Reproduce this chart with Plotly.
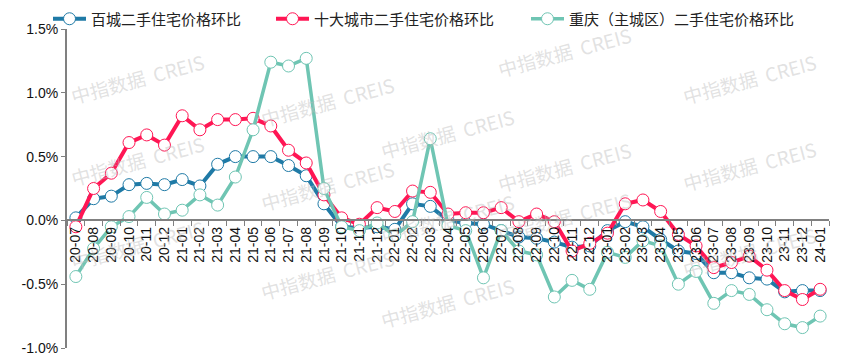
import plotly.graph_objects as go

months = ["20-07","20-08","20-09","20-10","20-11","20-12",
          "21-01","21-02","21-03","21-04","21-05","21-06","21-07","21-08","21-09","21-10","21-11","21-12",
          "22-01","22-02","22-03","22-04","22-05","22-06","22-07","22-08","22-09","22-10","22-11","22-12",
          "23-01","23-02","23-03","23-04","23-05","23-06","23-07","23-08","23-09","23-10","23-11","23-12",
          "24-01"]

baicheng = [0.02, 0.17, 0.19, 0.28, 0.29, 0.28,
            0.32, 0.27, 0.44, 0.50, 0.50, 0.50, 0.43, 0.35, 0.13, -0.05, -0.06, -0.05,
            -0.07, 0.13, 0.11, 0.00, -0.02, -0.03, -0.08, -0.13, -0.14, -0.17, -0.21, -0.20,
            -0.08, -0.01, -0.05, -0.15, -0.24, -0.26, -0.41, -0.41, -0.45, -0.46, -0.56, -0.55,
            -0.55]

shida = [-0.05, 0.25, 0.37, 0.61, 0.67, 0.59,
         0.82, 0.71, 0.79, 0.79, 0.80, 0.74, 0.55, 0.45, 0.20, 0.02, -0.03, 0.10,
         0.07, 0.23, 0.22, 0.05, 0.06, 0.06, 0.10, -0.01, 0.05, -0.01, -0.24, -0.18,
         -0.10, 0.13, 0.16, 0.07, -0.11, -0.20, -0.37, -0.33, -0.28, -0.39, -0.55, -0.62,
         -0.54]

chongqing = [-0.44, -0.22, -0.05, 0.03, 0.18, 0.05,
             0.08, 0.20, 0.12, 0.34, 0.71, 1.24, 1.21, 1.27, 0.25, -0.05, -0.08, -0.02,
             -0.12, -0.01, 0.64, -0.04, -0.08, -0.45, -0.08, -0.24, -0.27, -0.60, -0.47, -0.54,
             -0.25, -0.29, -0.16, -0.20, -0.50, -0.40, -0.65, -0.55, -0.58, -0.70, -0.81, -0.84,
             -0.75]

series_names = ["百城二手住宅价格环比", "十大城市二手住宅价格环比", "重庆（主城区）二手住宅价格环比"]
series_colors = ["#1f7aa6", "#ff1654", "#6fc5b3"]

y_tickvals = [-1.0, -0.5, 0.0, 0.5, 1.0, 1.5]
y_ticktext = ["-1.0%", "-0.5%", "0.0%", "0.5%", "1.0%", "1.5%"]

watermark_text = "中指数据  CREIS"
watermark_pos = [(65, 45), (65, 160), (65, 278),
                 (255, 68), (255, 185), (255, 308),
                 (447, 100), (447, 218), (447, 336),
                 (637, 18), (637, 133), (637, 250),
                 (822, 45), (822, 165), (822, 285)]

# page body has an 8px margin: the figure is drawn 8px right/down of the window origin
OFF = 8
W, H = 841 - OFF, 361 - OFF
ml, mr, mt, mb = 67 - OFF, 12, 29 - OFF, 13
pw, ph = W - ml - mr, H - mt - mb

legend_left_px = [48, 271, 526]   # screen px where each legend entry begins
legend_center_y = 19              # screen px of the legend row centre
legend_keys = ["legend", "legend2", "legend3"]

fig = go.Figure()
for name, vals, col, lw, lk in zip(series_names, [baicheng, shida, chongqing], series_colors,
                                    [4, 4, 3.5], legend_keys):
    fig.add_trace(go.Scatter(
        x=months, y=vals, name=name, mode="lines+markers",
        line=dict(color=col, width=lw),
        marker=dict(symbol="circle", size=12, color="white", line=dict(color=col, width=1)),
        legend=lk,
    ))

for (px, py) in watermark_pos:
    fig.add_annotation(
        text=watermark_text, xref="paper", yref="paper",
        x=(px - 67) / pw, y=1 - (py - 29) / ph,
        showarrow=False, textangle=-15,
        font=dict(family="Noto Sans CJK SC", size=19, color="rgba(190,190,190,0.45)"),
    )

legend_common = dict(orientation="h", xanchor="left", xref="container",
                     yanchor="middle", yref="paper", y=1.0 + (29 - legend_center_y) / ph,
                     font=dict(family="Noto Sans CJK SC", size=15, color="#222"),
                     itemwidth=33, bgcolor="rgba(0,0,0,0)", borderwidth=0)
legends = {}
for lk, lx in zip(legend_keys, legend_left_px):
    legends[lk] = dict(legend_common, x=(lx - OFF) / W)

fig.update_layout(
    width=W, height=H,
    margin=dict(l=ml, r=mr, t=mt, b=mb, autoexpand=False),
    paper_bgcolor="white", plot_bgcolor="white",
    showlegend=True,
    font=dict(family="Liberation Sans, Arial, sans-serif", size=13, color="#111"),
    **legends,
)
fig.update_xaxes(
    type="category", anchor="free", position=0.4,
    range=[-0.5, len(months) - 0.5],
    showline=True, linecolor="#808080", linewidth=2,
    ticks="outside", ticklen=5, tickcolor="#808080", tickson="boundaries",
    tickangle=-90, showgrid=False, zeroline=False,
    tickfont=dict(family="Liberation Sans, Arial, sans-serif", size=14, color="#111"),
)
fig.update_yaxes(
    range=[-1.0, 1.5], tickvals=y_tickvals, ticktext=y_ticktext,
    showline=True, linecolor="#808080", linewidth=2,
    ticks="outside", ticklen=4, tickcolor="#808080",
    showgrid=False, zeroline=False,
    tickfont=dict(family="Liberation Sans, Arial, sans-serif", size=14, color="#111"),
)

fig.write_html("out.html")
